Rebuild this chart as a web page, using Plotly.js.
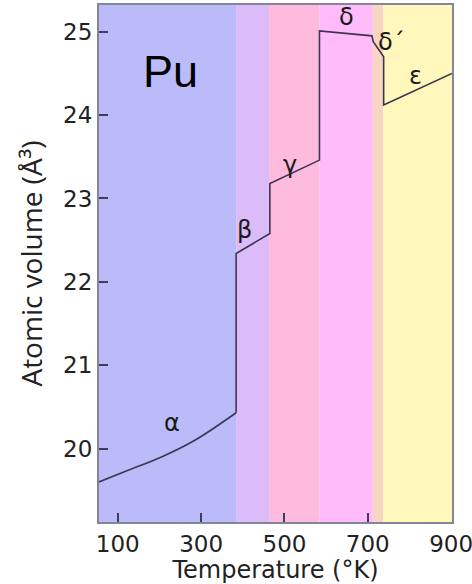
<!DOCTYPE html>
<html>
<head>
<meta charset="utf-8">
<script src="https://cdn.plot.ly/plotly-3.0.1.min.js"></script>
<style>html,body{margin:0;padding:0;background:#fff;}#chart{width:472px;height:584px;}</style>
</head>
<body>
<div id="chart"></div>
<script>
// Phase bands (temperature in K)
const phaseNames = ["α", "β", "γ", "δ", "δ´", "ε"];
const phaseStart = [55, 384, 463, 584, 712, 737];
const phaseEnd = [384, 463, 584, 712, 737, 902];
const phaseColors = ["#BBBBF9", "#DCBBF9", "#FFBBDD", "#FFBBFA", "#F9D6C2", "#FFF7BB"];
// Label positions (data coords)
const labelT = [231, 405, 513, 650, 758, 814];
const labelV = [20.31, 22.62, 23.40, 25.18, 24.88, 24.47];

// Alpha-phase curve
const alphaT = [55, 125, 205, 285, 384];
const alphaV = [19.60, 19.74, 19.90, 20.10, 20.43];
// Remaining phases (step curve)
const restT = [384, 384, 465, 465, 584, 584, 710, 713, 727, 738, 738, 902];
const restV = [20.43, 22.34, 22.58, 23.18, 23.46, 25.01, 24.95, 24.88, 24.78, 24.70, 24.12, 24.50];

const xTicks = [100, 300, 500, 700, 900];
const yTicks = [20, 21, 22, 23, 24, 25];

const lineColor = "#3d3652";
const traces = [
  {x: alphaT, y: alphaV, mode: "lines", line: {color: lineColor, width: 1.6, shape: "spline", smoothing: 1}, hoverinfo: "skip"},
  {x: restT, y: restV, mode: "lines", line: {color: lineColor, width: 1.6}, hoverinfo: "skip"}
];

const shapes = phaseStart.map((s, i) => ({
  type: "rect", xref: "x", yref: "paper", x0: s, x1: phaseEnd[i], y0: 0, y1: 1,
  fillcolor: phaseColors[i], line: {width: 0}, layer: "below"
}));

const annotations = phaseNames.map((n, i) => ({
  x: labelT[i], y: labelV[i], xref: "x", yref: "y", text: n, showarrow: false,
  font: {family: "DejaVu Sans", size: 24, color: "#1a1a1a"}
}));
annotations.push({
  x: 226, y: 24.52, xref: "x", yref: "y", text: "Pu", showarrow: false,
  font: {family: "Liberation Sans", size: 45, color: "#000"}
});

const axisCommon = {
  showgrid: false, zeroline: false, showline: true, mirror: true,
  linecolor: "#85859a", linewidth: 2,
  ticks: "inside", ticklen: 9, tickwidth: 2, tickcolor: "#3d3d5c",
  ticklabeloverflow: "allow",
  tickfont: {family: "DejaVu Sans", size: 23, color: "#222"}
};

const layout = {
  width: 472, height: 584,
  margin: {l: 99, r: 20, t: 5, b: 62},
  paper_bgcolor: "#fff", plot_bgcolor: "#fff",
  showlegend: false,
  xaxis: Object.assign({}, axisCommon, {
    range: [55, 902], tickvals: xTicks,
    title: {text: "Temperature (°K)", font: {family: "DejaVu Sans", size: 24, color: "#222"}, standoff: 4}
  }),
  yaxis: Object.assign({}, axisCommon, {
    range: [19.12, 25.32], tickvals: yTicks,
    title: {text: "Atomic volume (Å³)", font: {family: "Open Sans", size: 28, color: "#222"}, standoff: 12}
  }),
  shapes: shapes,
  annotations: annotations
};

Plotly.newPlot("chart", traces, layout, {staticPlot: true, displayModeBar: false});
</script>
</body>
</html>
